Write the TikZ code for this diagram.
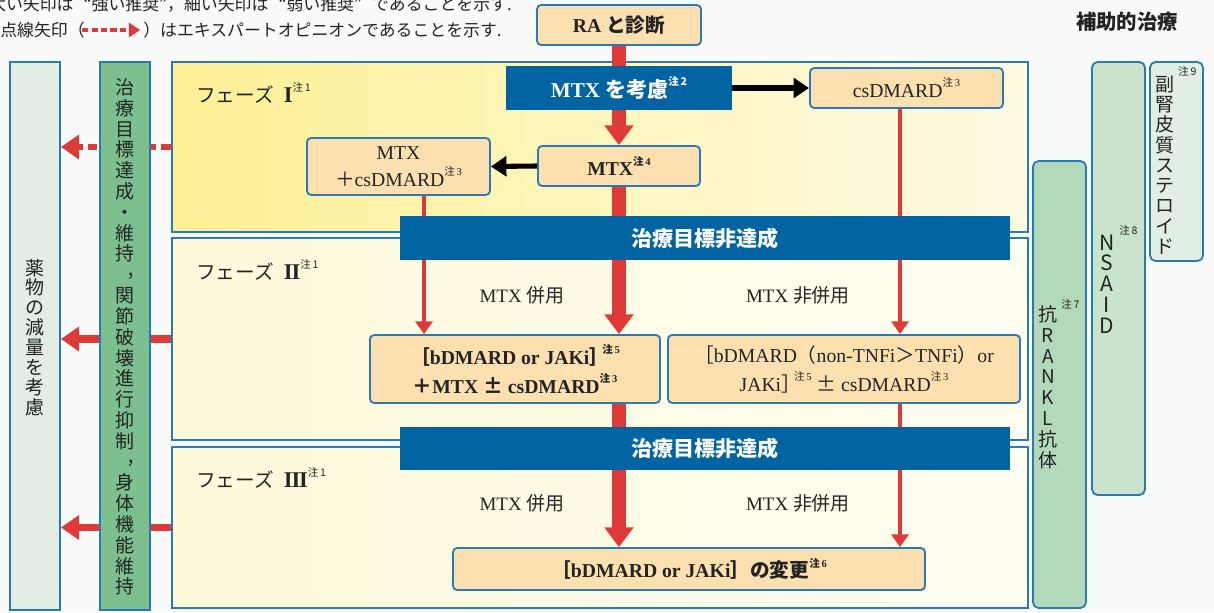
\documentclass[tikz,border=0pt]{standalone}
\usepackage{fontspec}
\setmainfont{Liberation Serif}
\newfontfamily\jp{Noto Sans CJK JP}
\usetikzlibrary{arrows.meta,fit}
\definecolor{bordblue}{RGB}{40,122,186}
\definecolor{barblue}{RGB}{0,100,162}
\definecolor{boxor}{RGB}{253,224,176}
\definecolor{arrred}{RGB}{222,58,55}
\definecolor{ink}{RGB}{35,35,35}
\definecolor{bgc}{RGB}{249,251,250}
\definecolor{lcol}{RGB}{226,238,228}
\definecolor{gcol}{RGB}{125,192,143}
\definecolor{rcol}{RGB}{178,217,185}
\definecolor{ncol}{RGB}{201,227,204}
\definecolor{scol}{RGB}{225,239,226}
\definecolor{yA}{RGB}{254,240,150}
\definecolor{yB}{RGB}{255,251,228}
\definecolor{cA}{RGB}{255,250,218}
\definecolor{cB}{RGB}{255,253,242}
\newcommand\chu[1]{\raisebox{0.55em}{\fontsize{7.5}{8}\selectfont{\jp 注}\,#1}}
\newcommand\vcm{\makebox[1em][l]{\hspace*{0.6em}\raisebox{0.25em}[0.3em][0pt]{\makebox[0pt][l]{，}}}}
\newcommand\rbr{{\jp ］}\kern-0.35em}
\newcommand\pmj{{\jp ±}}
\tikzset{
  ob/.style={draw=bordblue, line width=1.3pt, rounded corners=3pt, fill=boxor, inner sep=0pt,
    text=ink, align=center, font=\fontsize{14}{20.5}\selectfont},
  barbox/.style={fill=barblue, inner sep=0pt, text=white, font=\jp\bfseries\fontsize{15}{18}\selectfont},
  panel/.style={draw=bordblue, line width=1.1pt, inner sep=0pt},
  colbox/.style={draw=bordblue, line width=1.3pt, inner sep=0pt},
  rcolbox/.style={draw=bordblue, line width=1.3pt, inner sep=0pt, rounded corners=4pt},
  vtext/.style={font=\jp\fontsize{13.5}{14.8}\selectfont, align=center, text=ink, inner sep=0pt},
  notej/.style={font=\jp\fontsize{7.5}{8}\selectfont, text=ink, inner sep=0pt},
  tk/.style={draw=arrred, line width=10pt},
  tkTip/.style={-{Triangle[width=20pt,length=14pt]}},
  tn/.style={draw=arrred, line width=3.5pt},
  tnTip/.style={-{Triangle[width=12pt,length=9pt]}},
  blk/.style={draw=black, line width=3.6pt, -{Triangle[width=14pt,length=11pt]}},
  lred/.style={draw=arrred, line width=5pt, -{Triangle[width=17pt,length=13pt]}},
  dsh/.style={draw=arrred, line width=4pt, dash pattern=on 7pt off 3.5pt, -{Triangle[width=17pt,length=13pt]}},
  lab/.style={text=ink, inner sep=0pt, font=\fontsize{13.5}{16}\selectfont},
  plab/.style={anchor=west, text=ink, inner sep=0pt, font=\jp\fontsize{14}{16}\selectfont},
}
\begin{document}
\begin{tikzpicture}[x=0.025cm, y=-0.025cm]
\useasboundingbox (0,0) rectangle (1214,612);
\fill[bgc] (0,0) rectangle (1214,612);

% legend text
\node[anchor=east, inner sep=0pt, text=ink, font=\jp\fontsize{12}{14}\selectfont] (leg0) at (512,4) {太い矢印は\hspace{0.6em}“強い推奨”，細い矢印は\hspace{0.6em}“弱い推奨”\hspace{0.6em}であることを示す.};
\node[anchor=west, inner sep=0pt, text=ink, font=\jp\fontsize{12}{14}\selectfont] (leg1) at (0,30) {点線矢印（};
\node[anchor=west, inner sep=0pt, text=ink, font=\jp\fontsize{12}{14}\selectfont] (leg2) at (143,30) {）はエキスパートオピニオンであることを示す.};
\draw[draw=arrred, line width=3pt, dash pattern=on 4.5pt off 2.2pt, -{Triangle[width=10pt,length=8pt]}, shorten <=-2pt, shorten >=2pt] (leg1.east) -- (leg2.west);

\node[text=ink, inner sep=0pt, font=\jp\bfseries\fontsize{14.5}{16}\selectfont] (hojo) at (1127,22) {補助的治療};

% left column
\node[colbox, fill=lcol, fit={(10,62) (60,610)}] (leftcol) {};
\node[vtext, font=\jp\fontsize{13.5}{14.15}\selectfont] (lctext) at (35,337.5) {薬\\物\\の\\減\\量\\を\\考\\慮};

% phase panels
\node[panel, left color=yA, right color=yB, fit={(172,62) (1028,232)}] (ph1) {};
\node[panel, left color=cA, right color=cB, fit={(172,238) (1028,440)}] (ph2) {};
\node[panel, left color=cA, right color=cB, fit={(172,447) (1028,608)}] (ph3) {};

% left arrows
\draw[dsh] (ph1.west) -- (ph1.west -| leftcol.east);
\draw[lred] (ph2.west) -- (ph2.west -| leftcol.east);
\draw[lred] (ph3.west) -- (ph3.west -| leftcol.east);

% green column
\node[colbox, fill=gcol, fit={(100,62) (150,610)}] (greencol) {};
\node[vtext] (gctext) at (125,337) {治\\療\\目\\標\\達\\成\\・\\維\\持\\\vcm\\関\\節\\破\\壊\\進\\行\\抑\\制\\\vcm\\身\\体\\機\\能\\維\\持};

% phase labels
\node[plab] (p1lab) at (196,93) {フェーズ\hspace{0.5em}{\rmfamily\bfseries\fontsize{16}{16}\selectfont I}\chu{1}};
\node[plab] (p2lab) at (196,270) {フェーズ\hspace{0.5em}{\rmfamily\bfseries\fontsize{16}{16}\selectfont I\kern-0.05em I}\chu{1}};
\node[plab] (p3lab) at (196,478) {フェーズ\hspace{0.5em}{\rmfamily\bfseries\fontsize{16}{16}\selectfont I\kern-0.05em I\kern-0.05em I}\chu{1}};

% right columns
\node[rcolbox, fill=rcol, fit={(1033,161) (1086,608)}] (rankl) {};
\node[vtext, font=\jp\fontsize{13.5}{14.8}\selectfont] (rankltext) at (1048,387) {抗\\R\\A\\N\\K\\L\\抗\\体};
\node[notej, anchor=west] (n7) at (1061,304) {注\,7};
\node[rcolbox, fill=ncol, fit={(1092,62) (1145,495)}] (nsaid) {};
\node[vtext, font=\jp\fontsize{15}{14.8}\selectfont] (nsaidtext) at (1107,284) {N\\S\\A\\I\\D};
\node[notej, anchor=west] (n8) at (1119,230) {注\,8};
\node[rcolbox, fill=scol, fit={(1150,62) (1203,261)}] (steroid) {};
\node[vtext, font=\jp\fontsize{13.5}{14.4}\selectfont] (sttext) at (1165,165) {副\\腎\\皮\\質\\ス\\テ\\ロ\\イ\\ド};
\node[notej, anchor=west] (n9) at (1178,71) {注\,9};

% flow boxes
\node[ob, minimum width=4.1cm, minimum height=1.0cm] (ra) at (619,25) {\bfseries RA {\jp と診断}};
\node[barbox, minimum width=5.65cm, minimum height=1.1cm] (consider) at (619,88) {{\rmfamily MTX} を考慮\chu{2}};
\node[ob, minimum width=4.825cm, minimum height=1.0cm] (csd) at (906.5,88) {csDMARD\chu{3}};
\node[ob, minimum width=4.05cm, minimum height=1.0cm] (mtx) at (619,166) {\bfseries MTX\chu{4}};
\node[ob, minimum width=4.575cm, minimum height=1.425cm, font=\fontsize{14}{19.5}\selectfont] (mtxcs) at (398.5,166.5) {MTX\\{\jp ＋}csDMARD\chu{3}};
\node[barbox, minimum width=15.25cm, minimum height=1.1cm] (bar1) at (705,238) {治療目標非達成};
\node[ob, minimum width=7.25cm, minimum height=1.7cm, font=\bfseries\fontsize{14}{20.5}\selectfont] (boxL) at (515,369) {{\jp ［}bDMARD or JAKi\rbr\chu{5}\\{\jp ＋}MTX \pmj{} csDMARD\chu{3}};
\node[ob, minimum width=8.8cm, minimum height=1.7cm] (boxR) at (844,369) {{\jp ［}bDMARD{\jp （}non-TNFi{\jp ＞}TNFi{\jp ）}or\\JAKi\rbr\chu{5} \pmj{} csDMARD\chu{3}};
\node[barbox, minimum width=15.25cm, minimum height=1.075cm] (bar2) at (705,448.5) {治療目標非達成};
\node[ob, minimum width=11.8cm, minimum height=1.05cm, font=\bfseries\fontsize{14}{18}\selectfont] (final) at (689,569) {{\jp ［}bDMARD or JAKi{\jp ］の変更}\chu{6}};

% labels
\node[lab] (l1) at (522,295) {MTX {\jp 併用}};
\node[lab] (l2) at (798,295) {MTX {\jp 非併用}};
\node[lab] (l3) at (522,503) {MTX {\jp 併用}};
\node[lab] (l4) at (798,503) {MTX {\jp 非併用}};

% connectors
\coordinate (xl) at (424,0);
\coordinate (xr) at (900,0);
\draw[tk] (ra.south) -- (consider.north);
\draw[tk, tkTip] (consider.south) -- (mtx.north);
\draw[tk] (mtx.south) -- (mtx.south |- bar1.north);
\draw[tk, tkTip] (mtx.south |- bar1.south) -- (mtx.south |- boxL.north);
\draw[tk] (mtx.south |- boxL.south) -- (mtx.south |- bar2.north);
\draw[tk, tkTip] (mtx.south |- bar2.south) -- (mtx.south |- final.north);
\draw[tn] (xl |- mtxcs.south) -- (xl |- bar1.north);
\draw[tn, tnTip] (xl |- bar1.south) -- (xl |- boxL.north);
\draw[tn] (xr |- csd.south) -- (xr |- bar1.north);
\draw[tn, tnTip] (xr |- bar1.south) -- (xr |- boxR.north);
\draw[tn] (xr |- boxR.south) -- (xr |- bar2.north);
\draw[tn, tnTip] (xr |- bar2.south) -- (xr |- final.north);
\draw[blk] (consider.east) -- (csd.west);
\draw[blk] (mtx.west) -- (mtxcs.east);
\end{tikzpicture}
\end{document}
